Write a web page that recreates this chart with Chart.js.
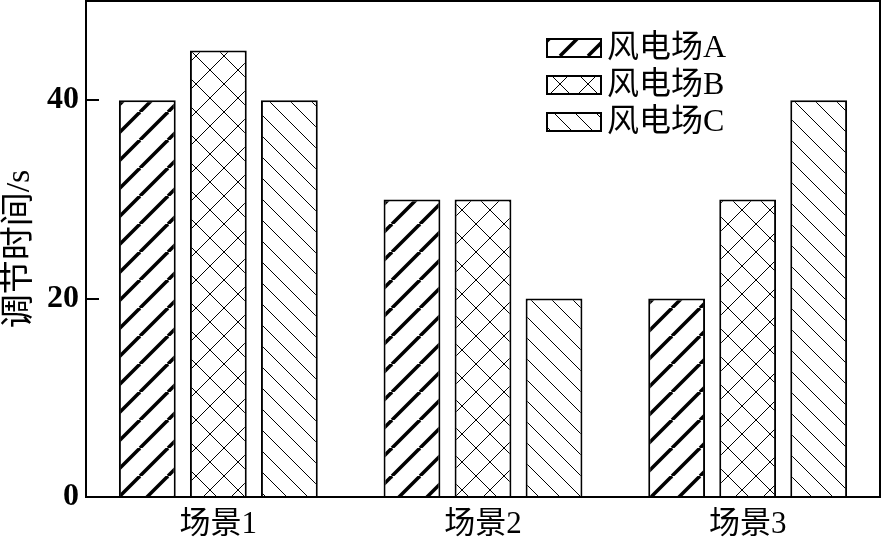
<!DOCTYPE html>
<html>
<head>
<meta charset="utf-8">
<script src="https://cdn.jsdelivr.net/npm/chart.js@4/dist/chart.umd.min.js"></script>
<style>
  html, body { margin: 0; padding: 0; background: #fff; }
  #wrap { width: 883px; height: 546px; }
</style>
</head>
<body>
<div id="wrap"><canvas id="c" width="883" height="546"></canvas></div>
<script>
// Scenes on the x axis and regulation time (s) of each wind farm
const scenes = ['场景1', '场景2', '场景3'];
const farmNames = ['风电场A', '风电场B', '风电场C'];
const farmA = [40, 30, 20];
const farmB = [45, 30, 30];
const farmC = [40, 20, 40];
const yTicks = [0, 20, 40];
const yTitle = '调节时间/s';

const FONT = "'Liberation Serif', 'Noto Sans CJK SC', serif";

// Hatch fills: thick "/" lines, thin cross-hatch, thin "\" lines
function hatch(size, width, dirs) {
  const c = document.createElement('canvas');
  c.width = size; c.height = size;
  const g = c.getContext('2d');
  g.fillStyle = '#fff';
  g.fillRect(0, 0, size, size);
  g.strokeStyle = '#000';
  g.lineWidth = width;
  g.lineCap = 'butt';
  for (const d of dirs) {
    for (let k = -1; k <= 1; k++) {
      g.beginPath();
      if (d === '/') { g.moveTo(k * size, size); g.lineTo(k * size + size, 0); }
      else { g.moveTo(k * size, 0); g.lineTo(k * size + size, size); }
      g.stroke();
    }
  }
  return g.createPattern(c, 'repeat');
}

const ctx = document.getElementById('c').getContext('2d');
const fills = [hatch(28, 3.5, ['/']), hatch(28, 1, ['/', '\\']), hatch(21, 1, ['\\'])];
const values = [farmA, farmB, farmC];

// Closed frame around the plot plus inward ticks on the value axis
const framePlugin = {
  id: 'frame',
  afterDatasetsDraw(chart) {
    const { ctx, chartArea: a, scales } = chart;
    ctx.save();
    ctx.strokeStyle = '#000';
    ctx.lineWidth = 2;
    ctx.strokeRect(a.left, a.top, a.right - a.left, a.bottom - a.top);
    ctx.beginPath();
    for (const v of yTicks) {
      const y = Math.round(scales.y.getPixelForValue(v));
      ctx.moveTo(a.left, y);
      ctx.lineTo(a.left + 13, y);
    }
    ctx.stroke();
    ctx.restore();
  }
};

// Legend drawn inside the plot, top right
const legendPlugin = {
  id: 'innerLegend',
  afterDraw(chart) {
    const { ctx, chartArea: a } = chart;
    const x0 = a.right - 333, y0 = a.top + 38, rowH = 37, bw = 54, bh = 18;
    ctx.save();
    chart.data.datasets.forEach((ds, i) => {
      const y = y0 + i * rowH;
      ctx.fillStyle = ds.backgroundColor;
      ctx.fillRect(x0, y, bw, bh);
      ctx.strokeStyle = '#000';
      ctx.lineWidth = 2;
      ctx.strokeRect(x0, y, bw, bh);
      ctx.fillStyle = '#000';
      ctx.font = '32px ' + FONT;
      ctx.textBaseline = 'middle';
      ctx.textAlign = 'left';
      ctx.fillText(ds.label, x0 + 60, y + bh / 2 + 1);
    });
    ctx.restore();
  }
};

new Chart(ctx, {
  type: 'bar',
  data: {
    labels: scenes,
    datasets: farmNames.map((name, i) => ({
      label: name,
      data: values[i],
      backgroundColor: fills[i],
      borderColor: '#000',
      borderWidth: 2,
      categoryPercentage: 0.805,
      barPercentage: 0.8
    }))
  },
  options: {
    responsive: false,
    animation: false,
    layout: { padding: { top: 1, right: 3, left: 0, bottom: 0 } },
    plugins: { legend: { display: false }, tooltip: { enabled: false } },
    scales: {
      x: {
        grid: { display: false, drawTicks: false },
        border: { display: false },
        ticks: { color: '#000', padding: 9, font: { family: FONT, size: 31 } },
        afterFit(s) { s.height = 49; s.paddingLeft = 0; s.paddingRight = 0; }
      },
      y: {
        min: 0, max: 50,
        grid: { display: false, drawTicks: false },
        border: { display: false },
        ticks: {
          stepSize: 20, includeBounds: false, color: '#000', padding: 7,
          font: { family: FONT, size: 32, weight: 'bold' }
        },
        title: {
          display: true, text: yTitle, color: '#000', padding: { top: 0, bottom: 0 },
          font: { family: FONT, size: 34 }
        },
        afterFit(s) { s.width = 86; s.paddingTop = 0; s.paddingBottom = 0; }
      }
    }
  },
  plugins: [framePlugin, legendPlugin]
});
</script>
</body>
</html>
